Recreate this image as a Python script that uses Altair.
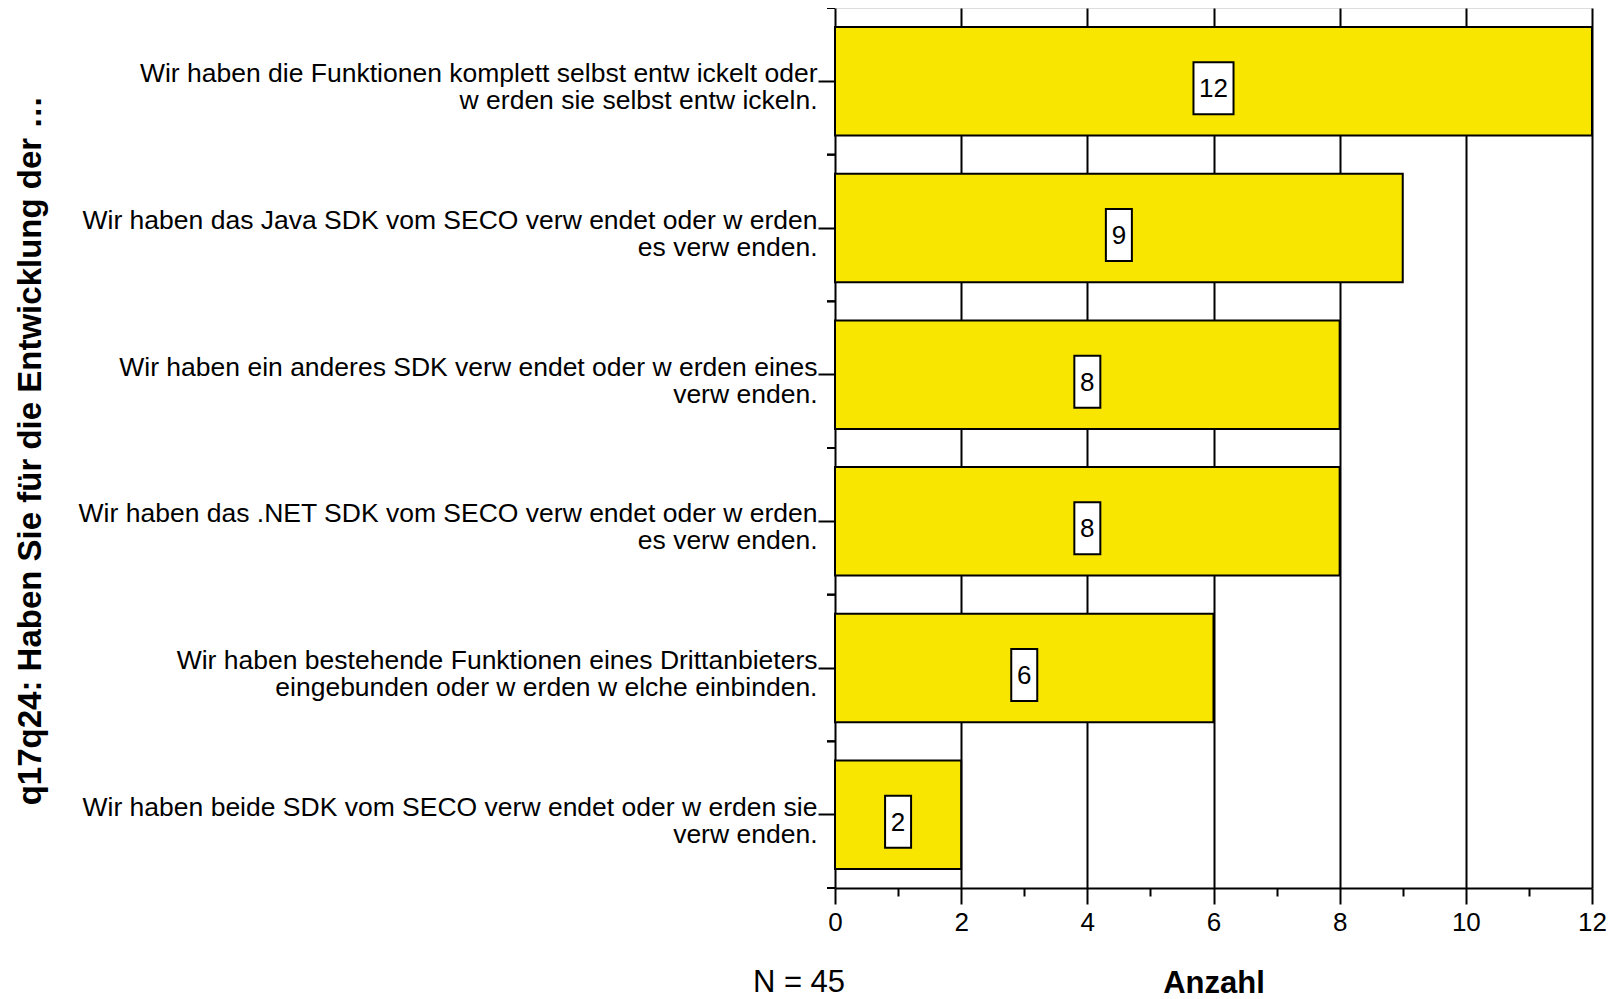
import altair as alt
import pandas as pd

line1 = [
    "Wir haben die Funktionen komplett selbst entw ickelt oder",
    "Wir haben das Java SDK vom SECO verw endet oder w erden",
    "Wir haben ein anderes SDK verw endet oder w erden eines",
    "Wir haben das .NET SDK vom SECO verw endet oder w erden",
    "Wir haben bestehende Funktionen eines Drittanbieters",
    "Wir haben beide SDK vom SECO verw endet oder w erden sie",
]
line2 = [
    "w erden sie selbst entw ickeln.",
    "es verw enden.",
    "verw enden.",
    "es verw enden.",
    "eingebunden oder w erden w elche einbinden.",
    "verw enden.",
]
counts = [12, 9, 8, 8, 6, 2]
x_ticks = list(range(0, 13))
N = 45
y_title = "q17q24: Haben Sie für die Entwicklung der …"
x_title = "Anzahl"

cats = [a + "|" + b for a, b in zip(line1, line2)]
df = pd.DataFrame({"cat": cats, "n": counts})
df["digits"] = df["n"].astype(str).str.len().astype(str)

FONT = "Liberation Sans"
NARROW = "Liberation Sans Narrow, Liberation Sans"

y_enc = alt.Y(
    "cat:N",
    sort=cats,
    scale=alt.Scale(domain=cats, paddingInner=0, paddingOuter=0),
    axis=alt.Axis(
        title=y_title,
        titleFont=FONT, titleFontSize=33, titleFontWeight="bold", titleColor="black",
        titleAngle=-90, titleX=-805, titleY=442, titleAlign="center", titleBaseline="middle",
        labelExpr="split(datum.label, '|')",
        labelFont=FONT, labelFontSize=26.5, labelColor="black",
        labelAlign="right", labelBaseline="alphabetic", labelOffset=1,
        labelLineHeight=27, labelPadding=1, labelLimit=800,
        tickSize=17, tickWidth=2, tickColor="black",
        domain=False, grid=False,
    ),
)

x_scale = alt.Scale(domain=[0, 12], nice=False)
x_axis = alt.Axis(
    title=x_title,
    titleFont=FONT, titleFontSize=31, titleFontWeight="bold", titleColor="black",
    titleY=104, titleBaseline="alphabetic",
    values=x_ticks, format="d",
    labelExpr="datum.value % 2 === 0 ? datum.label : ''",
    labelFont=NARROW, labelFontSize=26, labelColor="black", labelPadding=5,
    labelBaseline="top", labelFlush=False,
    tickSize={"condition": {"test": "datum.value % 2 === 0", "value": 16}, "value": 8},
    tickWidth=2, tickColor="black",
    domain=True, domainColor="black", domainWidth=2,
    grid=True, gridColor="black", gridWidth=2,
    gridOpacity={"condition": {"test": "datum.value % 2 === 0", "value": 1}, "value": 0},
)

bars = alt.Chart(df).mark_bar(
    height=alt.RelativeBandSize(0.74), fill="#F9E600", stroke="black", strokeWidth=2
).encode(
    x=alt.X("n:Q", scale=x_scale, axis=x_axis),
    y=y_enc,
)

mid = alt.Chart(df).transform_calculate(half="datum.n / 2")

path2 = "M-0.77,-1L0.77,-1L0.77,1L-0.77,1Z"
path1 = "M-0.5,-1L0.5,-1L0.5,1L-0.5,1Z"
boxes = mid.mark_point(
    filled=True, fill="white", stroke="black", strokeWidth=2, size=2704, opacity=1, yOffset=7
).encode(
    x=alt.X("half:Q", scale=x_scale),
    y=alt.Y("cat:N", sort=cats),
    shape=alt.Shape("digits:N", scale=alt.Scale(domain=["1", "2"], range=[path1, path2]), legend=None),
)
labels = mid.mark_text(font=FONT, fontSize=26, color="black", yOffset=8, baseline="middle").encode(
    x=alt.X("half:Q", scale=x_scale),
    y=alt.Y("cat:N", sort=cats),
    text="n:Q",
)

edges_top = alt.Chart(df).mark_rule(color="black", strokeWidth=2).encode(
    x=alt.value(-8), x2=alt.value(0), y=alt.Y("cat:N", sort=cats, bandPosition=0)
)
edges_bot = alt.Chart(df).mark_rule(color="black", strokeWidth=2).encode(
    x=alt.value(-8), x2=alt.value(0), y=alt.Y("cat:N", sort=cats, bandPosition=1)
)

ntext = alt.Chart(pd.DataFrame({"t": [f"N = {N}"]})).mark_text(
    font=FONT, fontSize=31, color="black", align="center", baseline="alphabetic"
).encode(x=alt.value(-36), y=alt.value(984), text="t:N")

chart = alt.layer(bars, boxes, labels, edges_top, edges_bot, ntext).properties(
    width=757, height=880,
    padding={"left": 827, "top": 0, "right": 14, "bottom": 111},
    autosize=alt.AutoSizeParams(type="none"),
).configure_view(stroke=None).configure(background="white")

chart.save("out.html", embed_options={"renderer": "svg", "actions": False})
